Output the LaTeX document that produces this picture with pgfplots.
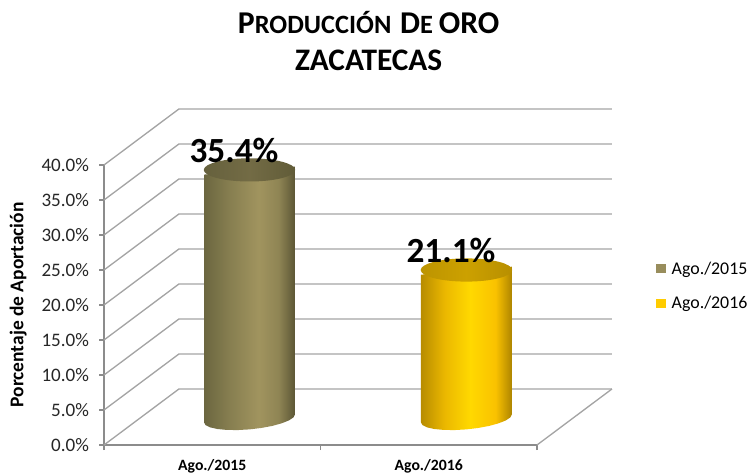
\documentclass[border=0pt]{standalone}
\usepackage{pgfplots}
\pgfplotsset{compat=1.18}
\usepackage{fontspec}
\setmainfont{Carlito}
\definecolor{axgray}{HTML}{8C8C8C}
\definecolor{gridgray}{HTML}{A4A4A4}
\definecolor{oliveleg}{HTML}{988D5C}
\definecolor{goldleg}{HTML}{FFCC00}
\pgfdeclarehorizontalshading{cylA}{100bp}{
 rgb(0bp)=(0.42,0.40,0.25);
 rgb(25bp)=(0.42,0.40,0.25); rgb(38bp)=(0.52,0.49,0.31); rgb(55bp)=(0.63,0.58,0.37);
 rgb(66bp)=(0.56,0.52,0.33); rgb(75bp)=(0.36,0.34,0.21); rgb(100bp)=(0.36,0.34,0.21)}
\pgfdeclarehorizontalshading{cylB}{100bp}{
 rgb(0bp)=(0.72,0.55,0.00);
 rgb(25bp)=(0.72,0.55,0.00); rgb(38bp)=(0.92,0.72,0.00); rgb(52bp)=(1.00,0.85,0.00);
 rgb(66bp)=(0.98,0.76,0.00); rgb(75bp)=(0.68,0.52,0.00); rgb(100bp)=(0.68,0.52,0.00)}
\pgfdeclarehorizontalshading{topA}{100bp}{
 rgb(0bp)=(0.40,0.38,0.24); rgb(25bp)=(0.40,0.38,0.24); rgb(50bp)=(0.45,0.42,0.27); rgb(75bp)=(0.38,0.36,0.22); rgb(100bp)=(0.38,0.36,0.22)}
\pgfdeclarehorizontalshading{topB}{100bp}{
 rgb(0bp)=(0.74,0.58,0.00); rgb(25bp)=(0.74,0.58,0.00); rgb(50bp)=(0.80,0.63,0.00); rgb(75bp)=(0.72,0.56,0.00); rgb(100bp)=(0.72,0.56,0.00)}
\newcommand{\cylmark}[2]{%
 \pgfdeclareplotmark{#1}{\path[rotate=5,shade,shading=#2,draw=none] (0,0) ellipse [x radius=34.3pt,y radius=8.7pt];}}
\cylmark{mTopA}{topA}\cylmark{mTopB}{topB}
\begin{document}
\begin{tikzpicture}
\path[use as bounding box] (0,0) rectangle (561pt,355.5pt);
\begin{axis}[
 at={(78pt,21.75pt)},anchor=south west,
 scale only axis,width=324.75pt,height=210pt,
 xmin=0,xmax=2,ymin=0,ymax=40,clip=false,
 axis lines*=left,axis line style={-,draw=axgray,line width=0.9pt},
 tick style={draw=axgray,line width=0.9pt},
 major tick length=3.75pt,tick align=outside,
 xtick={0,1,2},xticklabels={,,},
 extra x ticks={0.5,1.5},extra x tick labels={Ago./2015,Ago./2016},
 extra x tick style={major tick length=0pt,tick label style={font=\bfseries\fontsize{11.8}{13}\selectfont,yshift=-7.5pt}},
 ytick={0,5,...,40},
 /pgf/number format/assume math mode=true,
 yticklabel={\pgfmathprintnumber[fixed,fixed zerofill,precision=1]{\tick}\%},
 yticklabel style={font=\fontsize{14.3}{16}\selectfont,xshift=-4pt,text=black!85},
 ylabel={Porcentaje de Aportación},
 ylabel style={font=\bfseries\fontsize{14.6}{16}\selectfont,at={(axis description cs:-0.198,0.5)},anchor=center},
 legend style={at={(1.275,0.665)},anchor=north west,draw=none,fill=none,
   font=\fontsize{13.4}{15}\selectfont,row sep=10.8pt,inner sep=0pt,
   /tikz/every even column/.append style={column sep=2pt},
   /tikz/every odd column/.append style={column sep=2.5pt}},
 legend cell align=left,
 legend image code/.code={\fill[#1,shade=false,draw=none] (0pt,-3.4pt) rectangle (7pt,3.4pt);},
]
% walls: each gridline runs up the side wall and along the back wall
\pgfplotsinvokeforeach{0,5,10,15,20,25,30,35,40}{%
 \addplot[gridgray,line width=1pt,forget plot] coordinates {(0,#1) (0.346,#1+8) (2.346,#1+8)};}
\addplot[gridgray,line width=1pt,forget plot] coordinates {(2,0) (2.346,8)};
% Bar 1
\addplot[draw=none,shade,shading=cylA,y filter/.expression={y+3.8},legend image post style={fill=oliveleg}]
  coordinates {(0.462,34.83) (0.882,35.97) (0.882,0.571) (0.875,0.145) (0.854,-0.291) (0.820,-0.707) (0.777,-1.075) (0.726,-1.369) (0.672,-1.571) (0.618,-1.665) (0.567,-1.647) (0.524,-1.515) (0.490,-1.281) (0.469,-0.959) (0.462,-0.571)} -- cycle;
\addlegendentry{Ago./2015}
\addplot[forget plot,only marks,mark=mTopA,y filter/.expression={y+3.9},point meta=rawy,
  nodes near coords={\pgfmathprintnumber[fixed,fixed zerofill,precision=1]{\pgfplotspointmeta}\%},
  nodes near coords style={anchor=center,xshift=-11.6pt,yshift=14.4pt,text=black,font=\bfseries\fontsize{26.5}{28}\selectfont}]
  coordinates {(0.672,35.4)};
% Bar 2
\addplot[draw=none,shade,shading=cylB,y filter/.expression={y+3.8},legend image post style={fill=goldleg}]
  coordinates {(1.464,20.53) (1.884,21.67) (1.884,0.571) (1.877,0.145) (1.856,-0.291) (1.822,-0.707) (1.779,-1.075) (1.728,-1.369) (1.674,-1.571) (1.620,-1.665) (1.569,-1.647) (1.526,-1.515) (1.492,-1.281) (1.471,-0.959) (1.464,-0.571)} -- cycle;
\addlegendentry{Ago./2016}
\addplot[forget plot,only marks,mark=mTopB,y filter/.expression={y+3.9},point meta=rawy,
  nodes near coords={\pgfmathprintnumber[fixed,fixed zerofill,precision=1]{\pgfplotspointmeta}\%},
  nodes near coords style={anchor=center,xshift=-11.6pt,yshift=14.4pt,text=black,font=\bfseries\fontsize{26.5}{28}\selectfont}]
  coordinates {(1.674,21.1)};
\end{axis}
\node[font=\bfseries,inner sep=0pt] at (276.5pt,338.5pt) {\fontsize{23.8}{26}\selectfont P\fontsize{19.8}{26}\selectfont RODUCCIÓN\hspace{2pt} \fontsize{23.8}{26}\selectfont D\fontsize{19.8}{26}\selectfont E \fontsize{23.8}{26}\selectfont ORO};
\node[font=\bfseries,inner sep=0pt] at (276.5pt,310.5pt) {\fontsize{23.5}{26}\selectfont ZACATECAS};
\end{tikzpicture}
\end{document}
